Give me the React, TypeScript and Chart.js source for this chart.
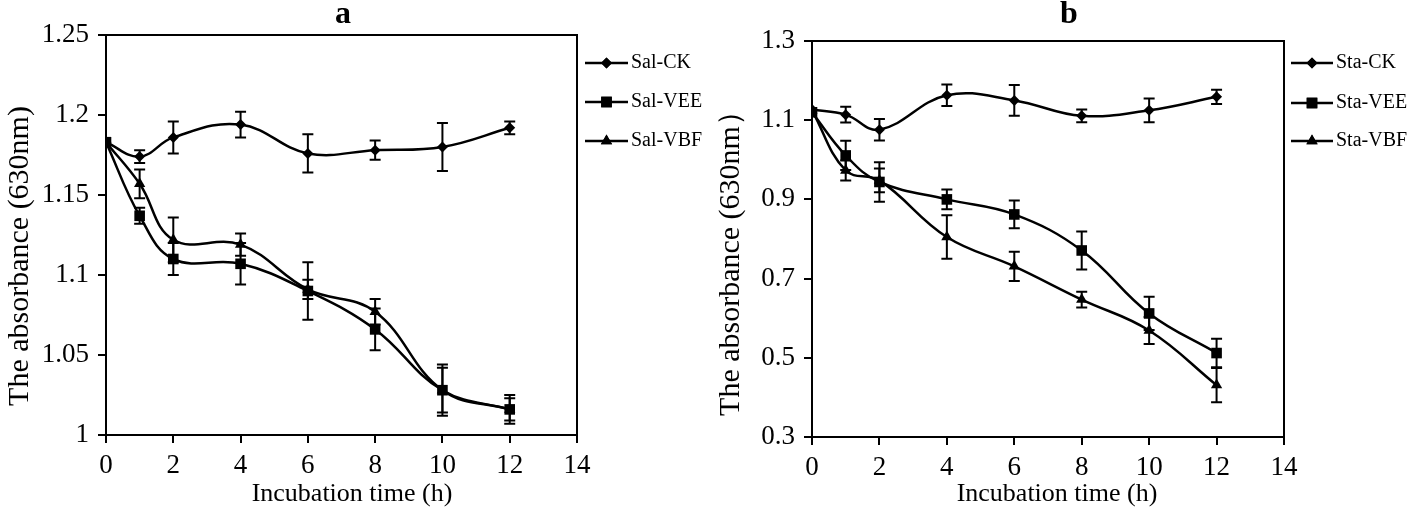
import React, { useEffect, useRef } from 'react';
import { Chart, registerables } from 'chart.js';
import { drawPoint } from 'chart.js/helpers';

Chart.register(...registerables);

// ---------- data ----------
const hours = [0, 1, 2, 4, 6, 8, 10, 12];
const xTicks = [0, 2, 4, 6, 8, 10, 12, 14];

const yTicksA = [1, 1.05, 1.1, 1.15, 1.2, 1.25];
const yTickLabelsA = ['1', '1.05', '1.1', '1.15', '1.2', '1.25'];
const yTicksB = [0.3, 0.5, 0.7, 0.9, 1.1, 1.3];
const yTickLabelsB = ['0.3', '0.5', '0.7', '0.9', '1.1', '1.3'];

const seriesNamesA = ['Sal-CK', 'Sal-VEE', 'Sal-VBF'];
const salCK = [1.183, 1.174, 1.186, 1.194, 1.176, 1.178, 1.18, 1.192];
const salCKErr = [0, 0.004, 0.01, 0.008, 0.012, 0.006, 0.015, 0.004];
const salVEE = [1.183, 1.137, 1.11, 1.107, 1.09, 1.066, 1.028, 1.016];
const salVEEErr = [0, 0.005, 0.01, 0.013, 0.018, 0.013, 0.016, 0.009];
const salVBF = [1.183, 1.157, 1.122, 1.119, 1.091, 1.077, 1.028, 1.016];
const salVBFErr = [0, 0.009, 0.014, 0.007, 0.006, 0.008, 0.014, 0.007];

const seriesNamesB = ['Sta-CK', 'Sta-VEE', 'Sta-VBF'];
const staCK = [1.127, 1.114, 1.076, 1.163, 1.15, 1.111, 1.125, 1.159];
const staCKErr = [0, 0.02, 0.027, 0.027, 0.039, 0.016, 0.03, 0.018];
const staVEE = [1.12, 1.011, 0.944, 0.9, 0.862, 0.771, 0.612, 0.512];
const staVEEErr = [0, 0.037, 0.05, 0.025, 0.035, 0.048, 0.042, 0.036];
const staVBF = [1.125, 0.973, 0.948, 0.805, 0.731, 0.647, 0.569, 0.431];
const staVBFErr = [0, 0.025, 0.03, 0.055, 0.037, 0.02, 0.034, 0.043];

const pointStyles = ['rectRot', 'rect', 'triangle'];
const pointRadii = [5.5, 7.5, 6.5];

const FONT = '"Liberation Serif", "Times New Roman", serif';

type PanelCfg = {
  letter: string;
  names: string[];
  values: number[][];
  errors: number[][];
  yTicks: number[];
  yLabels: string[];
  yTitle: string;
  area: { left: number; right: number; top: number; bottom: number };
  letterX: number;
  xTitleX: number;
  yTitleX: number;
  yTitleY: number;
  legendX1: number;
  legendX2: number;
  legendTextX: number;
  legendY: number[];
};

const W = 709;
const H = 514;

function Panel({ cfg }: { cfg: PanelCfg }) {
  const ref = useRef<HTMLCanvasElement | null>(null);
  useEffect(() => {
    const canvas = ref.current!;
    const a = cfg.area;

    const errorBars = {
      id: 'errorBars',
      afterDatasetsDraw(chart: any) {
        const ctx = chart.ctx;
        const xs = chart.scales.x;
        const ys = chart.scales.y;
        ctx.save();
        ctx.strokeStyle = '#000';
        ctx.lineWidth = 2;
        chart.data.datasets.forEach((ds: any) => {
          ds.data.forEach((p: any, i: number) => {
            const e = ds.errors[i];
            if (!e) return;
            const x = xs.getPixelForValue(p.x);
            const y1 = ys.getPixelForValue(p.y + e);
            const y2 = ys.getPixelForValue(p.y - e);
            ctx.beginPath();
            ctx.moveTo(x, y1);
            ctx.lineTo(x, y2);
            ctx.moveTo(x - 5.5, y1);
            ctx.lineTo(x + 5.5, y1);
            ctx.moveTo(x - 5.5, y2);
            ctx.lineTo(x + 5.5, y2);
            ctx.stroke();
          });
        });
        ctx.restore();
      },
    };

    const decor = {
      id: 'decor',
      afterDraw(chart: any) {
        const ctx = chart.ctx;
        const ca = chart.chartArea;
        ctx.save();
        // frame
        ctx.strokeStyle = '#000';
        ctx.lineWidth = 2;
        ctx.strokeRect(ca.left, ca.top, ca.right - ca.left, ca.bottom - ca.top);
        ctx.fillStyle = '#000';
        // panel letter
        ctx.font = `bold 32px ${FONT}`;
        ctx.textAlign = 'center';
        ctx.textBaseline = 'middle';
        ctx.fillText(cfg.letter, cfg.letterX, 15);
        // x title
        ctx.font = `26px ${FONT}`;
        ctx.fillText('Incubation time (h)', cfg.xTitleX, 494);
        // y title
        ctx.save();
        ctx.translate(cfg.yTitleX, cfg.yTitleY);
        ctx.rotate(-Math.PI / 2);
        ctx.font = `30px ${FONT}`;
        ctx.fillText(cfg.yTitle, 0, 0);
        ctx.restore();
        // legend
        chart.data.datasets.forEach((ds: any, i: number) => {
          const y = cfg.legendY[i];
          ctx.beginPath();
          ctx.lineWidth = 2.5;
          ctx.moveTo(cfg.legendX1, y);
          ctx.lineTo(cfg.legendX2, y);
          ctx.stroke();
          drawPoint(ctx, { pointStyle: ds.pointStyle, radius: ds.pointRadius, rotation: 0, borderWidth: 0 } as any, (cfg.legendX1 + cfg.legendX2) / 2, y);
          ctx.fill();
          ctx.font = `20px ${FONT}`;
          ctx.textAlign = 'left';
          ctx.textBaseline = 'middle';
          ctx.fillText(ds.label, cfg.legendTextX, y);
        });
        ctx.restore();
      },
    };

    const chart = new Chart(canvas, {
      type: 'line',
      data: {
        datasets: cfg.names.map((name, k) => ({
          label: name,
          data: hours.map((h, i) => ({ x: h, y: cfg.values[k][i] })),
          errors: cfg.errors[k],
          borderColor: '#000',
          backgroundColor: '#000',
          borderWidth: 2.5,
          pointStyle: pointStyles[k],
          pointRadius: pointRadii[k],
          pointBorderWidth: 0,
          pointBackgroundColor: '#000',
          tension: 0.4,
          fill: false,
        })) as any,
      },
      options: {
        animation: false,
        responsive: false,
        maintainAspectRatio: false,
        layout: { padding: { left: 0, right: W - a.right, top: a.top, bottom: 0 } },
        plugins: { legend: { display: false }, tooltip: { enabled: false }, title: { display: false } },
        scales: {
          x: {
            type: 'linear',
            min: 0,
            max: 14,
            afterBuildTicks: (s: any) => { s.ticks = xTicks.map((v) => ({ value: v })); },
            afterFit: (s: any) => { s.height = H - a.bottom; },
            ticks: { color: '#000', font: { family: FONT, size: 27 }, padding: 7, maxRotation: 0, autoSkip: false },
            grid: { drawOnChartArea: false, drawTicks: true, tickLength: 8, color: '#000', lineWidth: 2 },
            border: { display: true, color: '#000', width: 2 },
          },
          y: {
            type: 'linear',
            min: cfg.yTicks[0],
            max: cfg.yTicks[cfg.yTicks.length - 1],
            afterBuildTicks: (s: any) => { s.ticks = cfg.yTicks.map((v) => ({ value: v })); },
            afterFit: (s: any) => { s.width = a.left; },
            ticks: {
              color: '#000',
              font: { family: FONT, size: 27 },
              padding: 9,
              autoSkip: false,
              callback: (_v: any, i: number) => cfg.yLabels[i],
            },
            grid: { drawOnChartArea: false, drawTicks: true, tickLength: 8, color: '#000', lineWidth: 2 },
            border: { display: true, color: '#000', width: 2 },
          },
        },
      } as any,
      plugins: [errorBars, decor],
    });
    return () => chart.destroy();
  }, [cfg]);
  return <canvas ref={ref} width={W} height={H} style={{ display: 'block', width: W, height: H }} />;
}

const cfgA: PanelCfg = {
  letter: 'a',
  names: seriesNamesA,
  values: [salCK, salVEE, salVBF],
  errors: [salCKErr, salVEEErr, salVBFErr],
  yTicks: yTicksA,
  yLabels: yTickLabelsA,
  yTitle: 'The absorbance (630nm)',
  area: { left: 106, right: 577, top: 35, bottom: 435 },
  letterX: 343,
  xTitleX: 352,
  yTitleX: 20,
  yTitleY: 256,
  legendX1: 585,
  legendX2: 628,
  legendTextX: 631,
  legendY: [63, 102, 141],
};

const cfgB: PanelCfg = {
  letter: 'b',
  names: seriesNamesB,
  values: [staCK, staVEE, staVBF],
  errors: [staCKErr, staVEEErr, staVBFErr],
  yTicks: yTicksB,
  yLabels: yTickLabelsB,
  yTitle: 'The absorbance (630nm）',
  area: { left: 103, right: 575, top: 41, bottom: 437 },
  letterX: 360,
  xTitleX: 348,
  yTitleX: 22,
  yTitleY: 256,
  legendX1: 582,
  legendX2: 624,
  legendTextX: 627,
  legendY: [63, 103, 141],
};

export default function App() {
  useEffect(() => {
    document.body.style.margin = '0';
    document.body.style.background = '#fff';
  }, []);
  return (
    <div style={{ display: 'flex', width: 1418, height: 514, background: '#fff' }}>
      <Panel cfg={cfgA} />
      <Panel cfg={cfgB} />
    </div>
  );
}
